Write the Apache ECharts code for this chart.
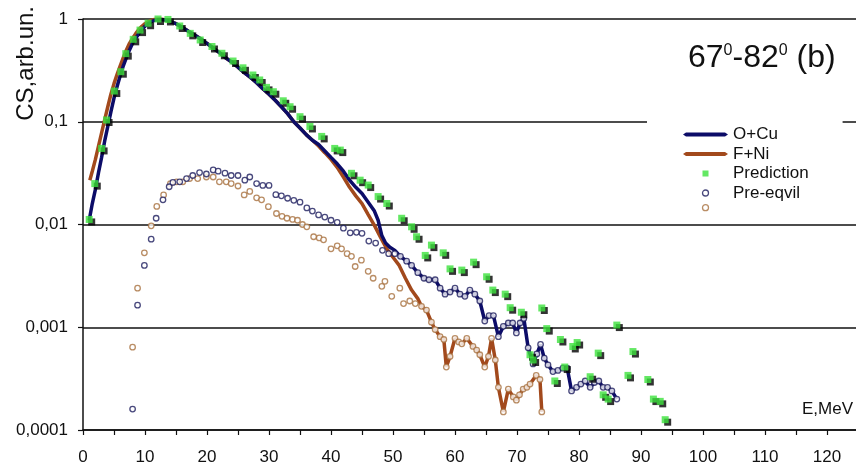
<!DOCTYPE html>
<html>
<head>
<meta charset="utf-8">
<script src="https://cdn.jsdelivr.net/npm/echarts@6/dist/echarts.min.js"></script>
<style>
  html, body { margin: 0; padding: 0; background: #fff; }
  #chart { width: 856px; height: 469px; }
</style>
</head>
<body>
<div id="chart"></div>
<script>
// Energy spectra, E (MeV) vs. cross-section (arb. units), log scale.
const oCuLine = [
  [1.0,0.011],[1.5,0.016],[2.0,0.022],[2.5,0.032],[3.0,0.045],[3.5,0.065],[4.0,0.09],[4.5,0.125],
  [5.0,0.17],[5.5,0.22],[6.0,0.28],[6.5,0.35],[7.0,0.42],[7.5,0.5],[8.0,0.58],[8.5,0.65],[9.0,0.72],
  [9.5,0.79],[10.0,0.85],[10.5,0.9],[11.0,0.94],[11.5,0.97],[12.0,0.985],[12.5,0.99],[13.0,0.985],
  [14.0,0.95],[15.0,0.9],[16.0,0.83],[17.0,0.76],[18.0,0.7],[19.0,0.64],[20.0,0.58],[21.0,0.52],
  [22.0,0.47],[23.0,0.42],[24.0,0.38],[25.0,0.34],[26.0,0.3],[27.0,0.27],[28.0,0.24],[29.0,0.21],
  [30.0,0.185],[31.0,0.162],[32.0,0.14],[33.0,0.12],[34.0,0.1],[35.0,0.087],[36.0,0.075],[37.0,0.066],
  [38.0,0.06],[39.0,0.052],[40.0,0.045],[41.0,0.039],[42.0,0.033],[43.0,0.027],[44.0,0.023],[45.0,0.02],
  [46.0,0.0165],[47.0,0.0135],[47.6,0.011],[48.2,0.0078],[48.8,0.0066],[49.5,0.006],[50.3,0.0056],
  [51.2,0.0049],[52.2,0.0044],[53.0,0.004],[54.0,0.0034],[55.0,0.003],[55.8,0.0029],[56.8,0.0029],
  [57.6,0.0024],[58.4,0.0021],[59.2,0.0022],[60.0,0.0024],[60.8,0.0021],[61.6,0.002],[62.4,0.0023],
  [63.2,0.0021],[64.0,0.0018],[64.8,0.00115],[65.5,0.0013],[66.2,0.0013],[67.0,0.00081],[67.8,0.00102],
  [68.6,0.0011],[69.3,0.0011],[69.9,0.00088],[70.5,0.0011],[71.1,0.00122],[71.8,0.00063],[72.6,0.00044],
  [73.2,0.00055],[73.8,0.00068],[74.4,0.0005],[75.0,0.00043],[75.8,0.00037],[76.6,0.00038],[77.4,0.0004],
  [78.1,0.0004],[78.8,0.00024],[79.6,0.00026],[80.3,0.00028],[81.0,0.0003],[81.8,0.00026],[82.5,0.00029],
  [83.2,0.0003],[83.9,0.00026],[84.6,0.00026],[85.3,0.00024],[86.1,0.0002]
];

const fNiLine = [
  [1.1,0.027],[1.5,0.033],[2.0,0.043],[2.5,0.058],[3.0,0.078],[3.5,0.105],[4.0,0.14],[4.5,0.185],
  [5.0,0.235],[5.5,0.29],[6.0,0.35],[6.5,0.42],[7.0,0.5],[7.5,0.58],[8.0,0.65],[8.5,0.72],[9.0,0.79],
  [9.5,0.85],[10.0,0.9],[10.5,0.94],[11.0,0.97],[11.5,0.99],[12.0,1.0],[12.5,1.0],[13.0,0.99],
  [14.0,0.95],[15.0,0.9],[16.0,0.83],[17.0,0.76],[18.0,0.7],[19.0,0.64],[20.0,0.58],[21.0,0.52],
  [22.0,0.47],[23.0,0.42],[24.0,0.38],[25.0,0.34],[26.0,0.3],[27.0,0.27],[28.0,0.24],[29.0,0.21],
  [30.0,0.185],[31.0,0.162],[32.0,0.14],[33.0,0.12],[34.0,0.1],[35.0,0.087],[36.0,0.075],[37.0,0.066],
  [38.0,0.058],[39.0,0.05],[40.0,0.043],[41.0,0.036],[42.0,0.029],[43.0,0.023],[44.0,0.019],[45.0,0.016],
  [46.0,0.0125],[47.0,0.0098],[48.0,0.0075],[49.0,0.0058],[50.0,0.0048],[51.0,0.004],[52.0,0.003],
  [53.0,0.0023],[54.0,0.0019],[54.6,0.0016],[55.4,0.00147],[56.2,0.00112],[56.8,0.00095],[57.6,0.00081],
  [58.2,0.00076],[58.6,0.00041],[59.2,0.00052],[60.0,0.00078],[60.6,0.00072],[61.1,0.00069],[61.9,0.00078],
  [62.9,0.00065],[63.5,0.0006],[64.0,0.00054],[64.8,0.00041],[65.4,0.00052],[65.9,0.00078],[66.5,0.00048],
  [67.0,0.00026],[67.8,0.00015],[68.6,0.00025],[69.4,0.00021],[69.9,0.000195],[70.4,0.00022],[71.0,0.00025],
  [71.6,0.00026],[72.1,0.00028],[73.1,0.00034],[73.7,0.00031],[74.0,0.00015]
];

const prediction = [
  [1.0,0.0112],[1.9,0.025],[3.0,0.055],[3.8,0.104],[5.05,0.199],[6.1,0.307],[6.9,0.46],[8.1,0.634],
  [9.2,0.78],[10.5,0.91],[12.1,1.0],[13.7,0.99],[15.6,0.855],[17.3,0.725],[18.9,0.625],[20.8,0.54],
  [22.4,0.464],[24.2,0.39],[25.8,0.335],[27.4,0.285],[28.5,0.255],[29.6,0.216],[30.7,0.196],[32.3,0.16],
  [33.4,0.14],[35.0,0.112],[36.6,0.09],[38.5,0.072],[40.6,0.055],[41.5,0.053],[43.3,0.0315],[44.7,0.027],
  [46.0,0.0242],[47.6,0.0187],[49.0,0.016],[51.4,0.0115],[53.0,0.0095],[53.8,0.0076],[55.2,0.005],
  [56.2,0.0063],[58.1,0.0053],[59.2,0.0037],[61.1,0.0036],[63.0,0.0043],[65.1,0.0031],[66.1,0.0023],
  [68.1,0.0021],[68.9,0.00155],[70.7,0.0014],[72.1,0.00054],[72.6,0.00048],[74.0,0.00154],[74.8,0.00097],
  [76.1,0.0003],[77.0,0.00076],[77.7,0.00041],[79.0,0.00065],[79.7,0.00071],[81.8,0.00033],[83.1,0.00056],
  [83.9,0.00022],[84.7,0.0002],[86.1,0.00105],[87.9,0.00034],[88.7,0.00058],[91.1,0.00031],[92.0,0.0002],
  [93.1,0.00019],[93.9,0.000126]
];

const preEqvilOCu = [
  [8.0,0.00016],[8.8,0.00164],[9.9,0.004],[11.0,0.0072],[11.8,0.0115],[12.9,0.0174],[13.9,0.0233],
  [14.5,0.0257],[15.6,0.026],[16.7,0.028],[17.7,0.03],[18.8,0.032],[19.9,0.031],[21.0,0.034],[21.8,0.033],
  [22.9,0.0316],[23.9,0.03],[25.0,0.03],[26.1,0.027],[26.9,0.029],[28.0,0.025],[29.0,0.024],[30.0,0.024],
  [31.1,0.0195],[32.0,0.019],[33.0,0.018],[34.0,0.0172],[35.0,0.0165],[36.1,0.0145],[37.0,0.0135],
  [38.0,0.0124],[39.0,0.0118],[40.0,0.011],[41.0,0.0105],[42.0,0.0092],[43.1,0.0083],[44.1,0.0084],
  [45.0,0.0082],[46.1,0.0069],[47.2,0.0066],[48.3,0.0056],[49.3,0.0052],[50.3,0.0052],
  [51.2,0.0049],[52.2,0.0044],[53.0,0.004],[54.0,0.0034],[55.0,0.003],[55.8,0.0029],[56.8,0.0029],
  [57.6,0.0024],[58.4,0.0021],[59.2,0.0022],[60.0,0.0024],[60.8,0.0021],[61.6,0.002],[62.4,0.0023],
  [63.2,0.0021],[64.0,0.0018],[64.8,0.00115],[65.5,0.0013],[66.2,0.0013],[67.0,0.00081],[67.8,0.00102],
  [68.6,0.0011],[69.3,0.0011],[69.9,0.00088],[70.5,0.0011],[71.1,0.00122],[71.8,0.00063],[72.6,0.00044],
  [73.2,0.00055],[73.8,0.00068],[74.4,0.0005],[75.0,0.00043],[75.8,0.00037],[76.6,0.00038],[77.4,0.0004],
  [78.1,0.0004],[78.8,0.00024],[79.6,0.00026],[80.3,0.00028],[81.0,0.0003],[81.8,0.00026],[82.5,0.00029],
  [83.2,0.0003],[83.9,0.00026],[84.6,0.00026],[85.3,0.00024],[86.1,0.0002]
];

const preEqvilFNi = [
  [8.0,0.00064],[8.8,0.0024],[9.9,0.0053],[11.0,0.0097],[11.9,0.015],[13.0,0.0194],[14.1,0.025],
  [15.1,0.026],[16.1,0.026],[17.2,0.028],[18.5,0.028],[19.9,0.029],[21.0,0.029],[22.0,0.026],[23.1,0.026],
  [23.9,0.025],[25.0,0.0237],[26.0,0.0194],[26.9,0.021],[28.0,0.0182],[28.8,0.0174],[29.9,0.0149],
  [31.2,0.0128],[32.1,0.012],[32.9,0.0115],[33.8,0.0112],[34.6,0.011],[35.4,0.01],[36.1,0.0095],
  [37.2,0.0076],[38.1,0.0074],[38.8,0.0071],[40.0,0.0058],[41.0,0.0062],[41.7,0.0058],[42.6,0.0052],
  [43.3,0.0049],[43.9,0.0039],[44.9,0.0045],[46.0,0.0035],[46.8,0.003],[48.2,0.0025],[48.7,0.0028],
  [49.8,0.002],[51.1,0.0024],[51.7,0.0017],[52.7,0.0018],[53.6,0.0017],[54.6,0.0016],[55.4,0.00147],
  [56.2,0.00112],[56.8,0.00095],[57.6,0.00081],[58.2,0.00076],[58.6,0.00041],[59.2,0.00052],[60.0,0.00078],
  [60.6,0.00072],[61.1,0.00069],[61.9,0.00078],[62.9,0.00065],[63.5,0.0006],[64.0,0.00054],[64.8,0.00041],
  [65.4,0.00052],[65.9,0.00078],[66.5,0.00048],[67.0,0.00026],[67.8,0.00015],[68.6,0.00025],[69.4,0.00021],
  [69.9,0.000195],[70.4,0.00022],[71.0,0.00025],[71.6,0.00026],[72.1,0.00028],[73.1,0.00034],[73.7,0.00031],
  [74.0,0.00015]
];

const yTickValues = [0.0001, 0.001, 0.01, 0.1, 1];
const yTickLabels = ['0,0001', '0,001', '0,01', '0,1', '1'];
const xLabelStep = 10;

const seriesNames = {
  oCu: 'O+Cu',
  fNi: 'F+Ni',
  pred: 'Prediction',
  preOCu: 'Pre-eqvil',
  preFNi: 'Pre-eqvil F+Ni'
};

const colors = {
  navy: '#0c0c68',
  brown: '#a2491c',
  green: '#3de23d',
  circleNavy: '#1c1c5c',
  circleBrown: '#a8703e'
};

const FONT = 'Arial, "Liberation Sans", sans-serif';

// Legend glyphs: a thick bar with pointed ends for the curves, a small square for the points.
const barIcon = 'path://M0,2L3,0H42L45,2L42,4H3Z';
const squareIcon = 'path://M0,0H10V10H0Z';

const chart = echarts.init(document.getElementById('chart'), null, { renderer: 'canvas' });

chart.setOption({
  animation: false,
  backgroundColor: '#fff',
  textStyle: { fontFamily: FONT },
  grid: { left: 83, top: 19, right: -2, bottom: 39, containLabel: false, outerBoundsMode: 'none' },
  xAxis: {
    type: 'value',
    min: 0,
    max: 125,
    interval: 5,
    axisLine: { show: true, lineStyle: { color: '#111', width: 1.5 } },
    axisTick: { show: true, length: 5, lineStyle: { color: '#111', width: 1.2 } },
    axisLabel: {
      fontSize: 17, color: '#111', fontFamily: FONT, margin: 19,
      formatter: v => (v % xLabelStep === 0 ? String(v) : '')
    },
    splitLine: { show: false }
  },
  yAxis: {
    type: 'log',
    logBase: 10,
    min: 0.0001,
    max: 1,
    axisLine: { show: true, lineStyle: { color: '#111', width: 1.5 } },
    axisTick: { show: true, length: 5, lineStyle: { color: '#111', width: 1.2 } },
    axisLabel: {
      fontSize: 17, color: '#111', fontFamily: FONT, margin: 15,
      formatter: v => {
        const i = yTickValues.findIndex(t => Math.abs(Math.log10(t) - Math.log10(v)) < 1e-6);
        return i >= 0 ? yTickLabels[i] : '';
      }
    },
    splitLine: { show: true, lineStyle: { color: '#111', width: 1.6 } }
  },
  legend: {
    orient: 'vertical',
    left: 647,
    top: 119,
    backgroundColor: '#fff',
    padding: [7, 34, 4, 36],
    itemWidth: 45,
    itemHeight: 6,
    itemGap: 2.5,
    selectedMode: false,
    symbolKeepAspect: true,
    textStyle: { fontSize: 17, color: '#111', fontFamily: FONT, lineHeight: 17 },
    formatter: name => (name === seriesNames.preFNi ? '' : name),
    data: [
      { name: seriesNames.oCu, icon: barIcon, itemStyle: { color: colors.navy, borderWidth: 0 } },
      { name: seriesNames.fNi, icon: barIcon, itemStyle: { color: colors.brown, borderWidth: 0 } },
      { name: seriesNames.pred, icon: squareIcon, itemStyle: { color: colors.green, borderWidth: 0 } },
      { name: seriesNames.preOCu, icon: 'circle',
        itemStyle: { color: '#fff', borderColor: colors.circleNavy, borderWidth: 1.3 } },
      { name: seriesNames.preFNi, icon: 'circle',
        itemStyle: { color: '#fff', borderColor: colors.circleBrown, borderWidth: 1.3 } }
    ]
  },
  graphic: [
    {
      type: 'text',
      x: 26, y: 6,
      rotation: Math.PI / 2,
      style: {
        text: 'CS,arb.un.',
        font: '24px ' + FONT,
        fill: '#111',
        align: 'right',
        verticalAlign: 'middle'
      }
    },
    {
      type: 'text',
      x: 688, y: 38,
      style: {
        text: '{a|67}{s|0}{a|-82}{s|0}{a| (b)}',
        fill: '#111',
        rich: {
          a: { fontSize: 32, fontFamily: FONT, lineHeight: 36, verticalAlign: 'bottom' },
          s: { fontSize: 16, fontFamily: FONT, lineHeight: 36, verticalAlign: 'top', padding: [5, 0, 0, 0] }
        }
      }
    },
    {
      type: 'text',
      x: 802, y: 401,
      style: { text: 'E,MeV', font: '17px ' + FONT, fill: '#111' }
    }
  ],
  series: [
    {
      name: seriesNames.fNi,
      type: 'line',
      data: fNiLine,
      showSymbol: false,
      symbol: 'none',
      lineStyle: { color: colors.brown, width: 3.5 },
      itemStyle: { color: colors.brown },
      z: 2
    },
    {
      name: seriesNames.oCu,
      type: 'line',
      data: oCuLine,
      showSymbol: false,
      symbol: 'none',
      lineStyle: { color: colors.navy, width: 3.5 },
      itemStyle: { color: colors.navy },
      z: 3
    },
    {
      name: seriesNames.preFNi,
      type: 'scatter',
      data: preEqvilFNi,
      symbol: 'circle',
      symbolSize: 5.5,
      clip: false,
      itemStyle: { color: '#fff', borderColor: colors.circleBrown, borderWidth: 1.3 },
      z: 4
    },
    {
      name: seriesNames.preOCu,
      type: 'scatter',
      data: preEqvilOCu,
      symbol: 'circle',
      symbolSize: 5.5,
      clip: false,
      itemStyle: { color: '#fff', borderColor: colors.circleNavy, borderWidth: 1.3 },
      z: 4
    },
    {
      name: seriesNames.pred,
      type: 'scatter',
      data: prediction,
      symbol: 'rect',
      symbolSize: 7,
      clip: false,
      itemStyle: {
        color: colors.green,
        shadowColor: '#000',
        shadowBlur: 0,
        shadowOffsetX: 2.5,
        shadowOffsetY: 2.5
      },
      z: 5
    }
  ]
});
</script>
</body>
</html>
